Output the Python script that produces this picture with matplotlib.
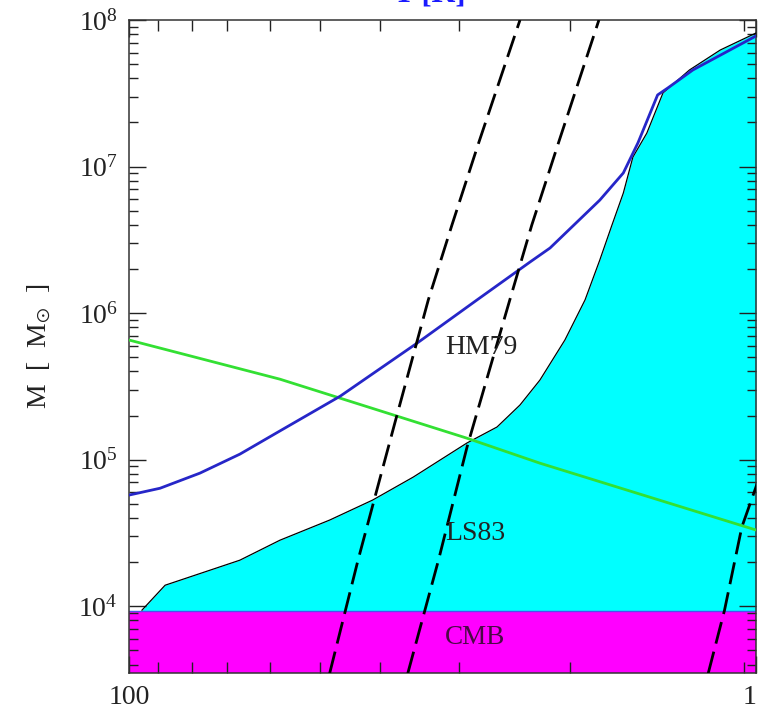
import numpy as np
import matplotlib
matplotlib.use("Agg")
import matplotlib.pyplot as plt
from matplotlib.ticker import FixedLocator, FixedFormatter, NullFormatter, LogLocator, LogFormatterMathtext

plt.rcParams['font.family'] = ['Liberation Serif', 'DejaVu Serif']
plt.rcParams['mathtext.fontset'] = 'stix'
plt.rcParams['lines.scale_dashes'] = False

# axis limits (1+z on x, mass on y)
x_range = [100, 1]
y_range = [3.5e3, 1e8]

# CMB cooling limit (magenta band)
cmb_mass = 9.3e3

# LS83 boundary of cyan region
ls83_x = [90.9, 76.7, 44.3, 33.0, 22.9, 16.7, 12.4, 8.35, 6.70, 5.66, 4.89, 4.07, 3.51,
          3.15, 2.88, 2.65, 2.47, 2.23, 1.98, 1.63, 1.30, 1.0]
ls83_y = [9.4e3, 1.39e4, 2.06e4, 2.82e4, 3.87e4, 5.3e4, 7.6e4, 1.30e5, 1.67e5, 2.36e5,
          3.49e5, 6.55e5, 1.23e6, 2.30e6, 3.99e6, 6.59e6, 1.16e7, 1.69e7, 3.18e7,
          4.56e7, 6.24e7, 8.15e7]

# HM79 curve (blue)
hm79_x = [100, 79.6, 59.4, 44.3, 33.0, 21.2, 12.05, 7.76, 5.26, 4.54, 3.15, 2.65, 2.38,
          2.06, 1.91, 1.59, 1.0]
hm79_y = [5.73e4, 6.38e4, 8.09e4, 1.09e5, 1.57e5, 2.71e5, 6.24e5, 1.23e6, 2.23e6,
          2.78e6, 5.90e6, 9.04e6, 1.45e7, 3.08e7, 3.44e7, 4.56e7, 7.78e7]

# green line
green_x = [100, 33.0, 8.35, 4.89, 1.0]
green_y = [6.55e5, 3.54e5, 1.40e5, 9.46e4, 3.31e4]

# dashed lines
dash1_x = [22.9, 18.6, 14.2, 11.1, 9.33, 7.71, 5.66]
dash1_y = [3.49e3, 2.06e4, 1.77e5, 1.23e6, 3.99e6, 1.40e7, 1e8]
dash2_x = [12.9, 10.3, 8.35, 6.10, 5.19, 4.29, 3.17]
dash2_y = [3.49e3, 2.06e4, 1.22e5, 1.23e6, 3.99e6, 1.40e7, 1e8]
dash3_x = [1.42, 1.26, 1.11, 0.99, 0.9]
dash3_y = [3.49e3, 9.4e3, 3.46e4, 6.92e4, 2e5]

# minor tick positions on the x axis
x_minor = [80.8, 63.0, 48.7, 35.5, 24.6, 15.8, 8.85, 3.92, 1.09]

fig = plt.figure(figsize=(7.58, 7.12), dpi=100)
ax = fig.add_axes([129 / 758, 39 / 712, 627 / 758, 653 / 712])
ax.set_xscale('log')
ax.set_yscale('log')
ax.set_xlim(x_range)
ax.set_ylim(y_range)

# magenta CMB band
ax.fill_between(x_range, y_range[0], cmb_mass, color='#ff00ff', lw=0, zorder=1)
ax.plot(x_range, [cmb_mass, cmb_mass], color='#5050f0', lw=1.0, zorder=2)

# cyan region under LS83 boundary
ax.fill_between(ls83_x, cmb_mass, ls83_y, color='#00ffff', lw=0, zorder=1)
ax.plot(ls83_x, ls83_y, color='black', lw=0.9, zorder=3)

ax.plot(green_x, green_y, color='#33e033', lw=2.0, zorder=4)
ax.plot(hm79_x, hm79_y, color='#2626c8', lw=2.0, zorder=4)

for dx, dy in [(dash1_x, dash1_y), (dash2_x, dash2_y), (dash3_x, dash3_y)]:
    ax.plot(dx, dy, color='black', lw=2.0, dashes=[16, 6], zorder=5)

ax.text(9.8, 5.86e5, 'HM79', fontsize=20, color='#222222', va='center', ha='left', zorder=6)
ax.text(9.8, 3.15e4, 'LS83', fontsize=20, color='#222222', va='center', ha='left', zorder=6)
ax.text(9.8, 6.14e3, 'CMB', fontsize=19.5, color='#4a0a44', va='center', ha='left', zorder=6)

# ticks
ax.xaxis.set_major_locator(FixedLocator([100, 1]))
ax.xaxis.set_major_formatter(FixedFormatter(['100', '1']))
ax.xaxis.set_minor_locator(FixedLocator(x_minor))
ax.xaxis.set_minor_formatter(NullFormatter())
ax.yaxis.set_major_locator(LogLocator(base=10, numticks=10))
ax.yaxis.set_major_formatter(LogFormatterMathtext())
ax.yaxis.set_minor_locator(LogLocator(base=10, subs=np.arange(2, 10), numticks=20))
ax.yaxis.set_minor_formatter(NullFormatter())
ax.tick_params(which='both', direction='in', top=True, right=True, labelsize=20,
               colors='#222222', width=1.0)
ax.tick_params(axis='y', which='major', length=12, pad=8)
ax.tick_params(axis='y', which='minor', length=6.5)
ax.tick_params(axis='x', which='major', length=12, pad=9)
ax.tick_params(axis='x', which='minor', length=8)
xlabels = ax.get_xticklabels()
xlabels[1].set_ha('right')
for s in ax.spines.values():
    s.set_linewidth(1.1)
    s.set_color('#333333')

ax.set_ylabel(r'M  [  M$_{\odot}$  ]', fontsize=20, color='#222222', labelpad=18)

# top label, mostly outside the figure
fig.text(430 / 758, 1 - 1.5 / 712, 'T [K]', color='#1a1aff', fontsize=22,
         fontweight='bold', ha='center', va='baseline')

plt.savefig('out.png', dpi=100)
